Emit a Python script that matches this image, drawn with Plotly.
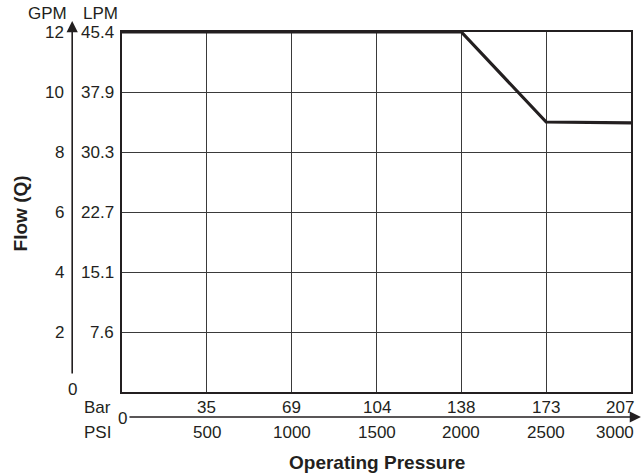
import plotly.graph_objects as go

# Flow curve: operating pressure (PSI) vs flow (GPM)
psi_points = [0, 2000, 2500, 3000]
gpm_points = [12, 12, 9.0, 8.97]

# Axis tick labels
psi_ticks = [500, 1000, 1500, 2000, 2500, 3000]
bar_ticks = ["35", "69", "104", "138", "173", "207"]
gpm_ticks = [2, 4, 6, 8, 10, 12]
lpm_ticks = ["7.6", "15.1", "22.7", "30.3", "37.9", "45.4"]

W, H = 644, 475
L, R, T, B = 122, 11, 32, 83
PW, PH = W - L - R, H - T - B

INK = "#231f20"
FONT = "Liberation Sans, Arial, sans-serif"


def px(x):
    return (x - L) / PW


def py(y):
    return (H - B - y) / PH


fig = go.Figure()
fig.add_trace(go.Scatter(
    x=psi_points, y=gpm_points, mode="lines",
    line=dict(color=INK, width=3.2), cliponaxis=False, hoverinfo="skip",
))

ann = []
tf = dict(family=FONT, size=17, color=INK)

# Bar (above axis arrow) and PSI (below) labels
for i, (p, b) in enumerate(zip(psi_ticks, bar_ticks)):
    last = i == len(psi_ticks) - 1
    common = dict(x=p, xref="x", yref="paper", showarrow=False,
                  xanchor="right" if last else "center",
                  xshift=5 if last else 0, yanchor="middle", font=tf)
    ann.append(dict(text=b, y=py(407), **common))
    ann.append(dict(text=str(p), y=py(432), **common))

# GPM and LPM labels
for g, l in zip(gpm_ticks, lpm_ticks):
    ann.append(dict(text=str(g), x=px(66), y=g, xref="paper", yref="y",
                    showarrow=False, xanchor="right", yanchor="middle", font=tf))
    ann.append(dict(text=l, x=px(116), y=g, xref="paper", yref="y",
                    showarrow=False, xanchor="right", yanchor="middle", font=tf))

static = [
    ("GPM", 47, 14, "center"),
    ("LPM", 100, 14, "center"),
    ("0", 72, 389, "center"),
    ("Bar", 113, 407, "right"),
    ("PSI", 113, 432, "right"),
    ("0", 122, 418, "center"),
]
for text, x, y, xa in static:
    ann.append(dict(text=text, x=px(x), y=py(y), xref="paper", yref="paper",
                    showarrow=False, xanchor=xa, yanchor="middle", font=tf))

bold = dict(family=FONT, size=19, color=INK)
ann.append(dict(text="<b>Operating Pressure</b>", x=px(378), y=py(462),
                xref="paper", yref="paper", showarrow=False,
                xanchor="center", yanchor="middle", font=bold))
ann.append(dict(text="<b>Flow (Q)</b>", x=px(20), y=py(213), textangle=-90,
                xref="paper", yref="paper", showarrow=False,
                xanchor="center", yanchor="middle", font=bold))

# Axis arrows
ann.append(dict(text="", x=px(72), y=py(21), xref="paper", yref="paper",
                showarrow=True, ax=0, ay=354, arrowhead=2, arrowsize=1.4,
                arrowwidth=1.6, arrowcolor=INK))
ann.append(dict(text="", x=px(643), y=py(417), xref="paper", yref="paper",
                showarrow=True, ax=-513, ay=0, arrowhead=2, arrowsize=1.4,
                arrowwidth=1.6, arrowcolor=INK))

fig.update_layout(
    width=W, height=H,
    margin=dict(l=L, r=R, t=T, b=B),
    paper_bgcolor="white", plot_bgcolor="white",
    showlegend=False,
    annotations=ann,
    xaxis=dict(range=[0, 3000], dtick=500, tick0=0, showgrid=True,
               gridcolor="#3a3a3a", gridwidth=1, showline=True, mirror=True,
               linecolor=INK, linewidth=1.6, showticklabels=False,
               zeroline=False, ticks=""),
    yaxis=dict(range=[0, 12], dtick=2, tick0=0, showgrid=True,
               gridcolor="#3a3a3a", gridwidth=1, showline=True, mirror=True,
               linecolor=INK, linewidth=1.6, showticklabels=False,
               zeroline=False, ticks=""),
)

fig.write_html("out.html")
